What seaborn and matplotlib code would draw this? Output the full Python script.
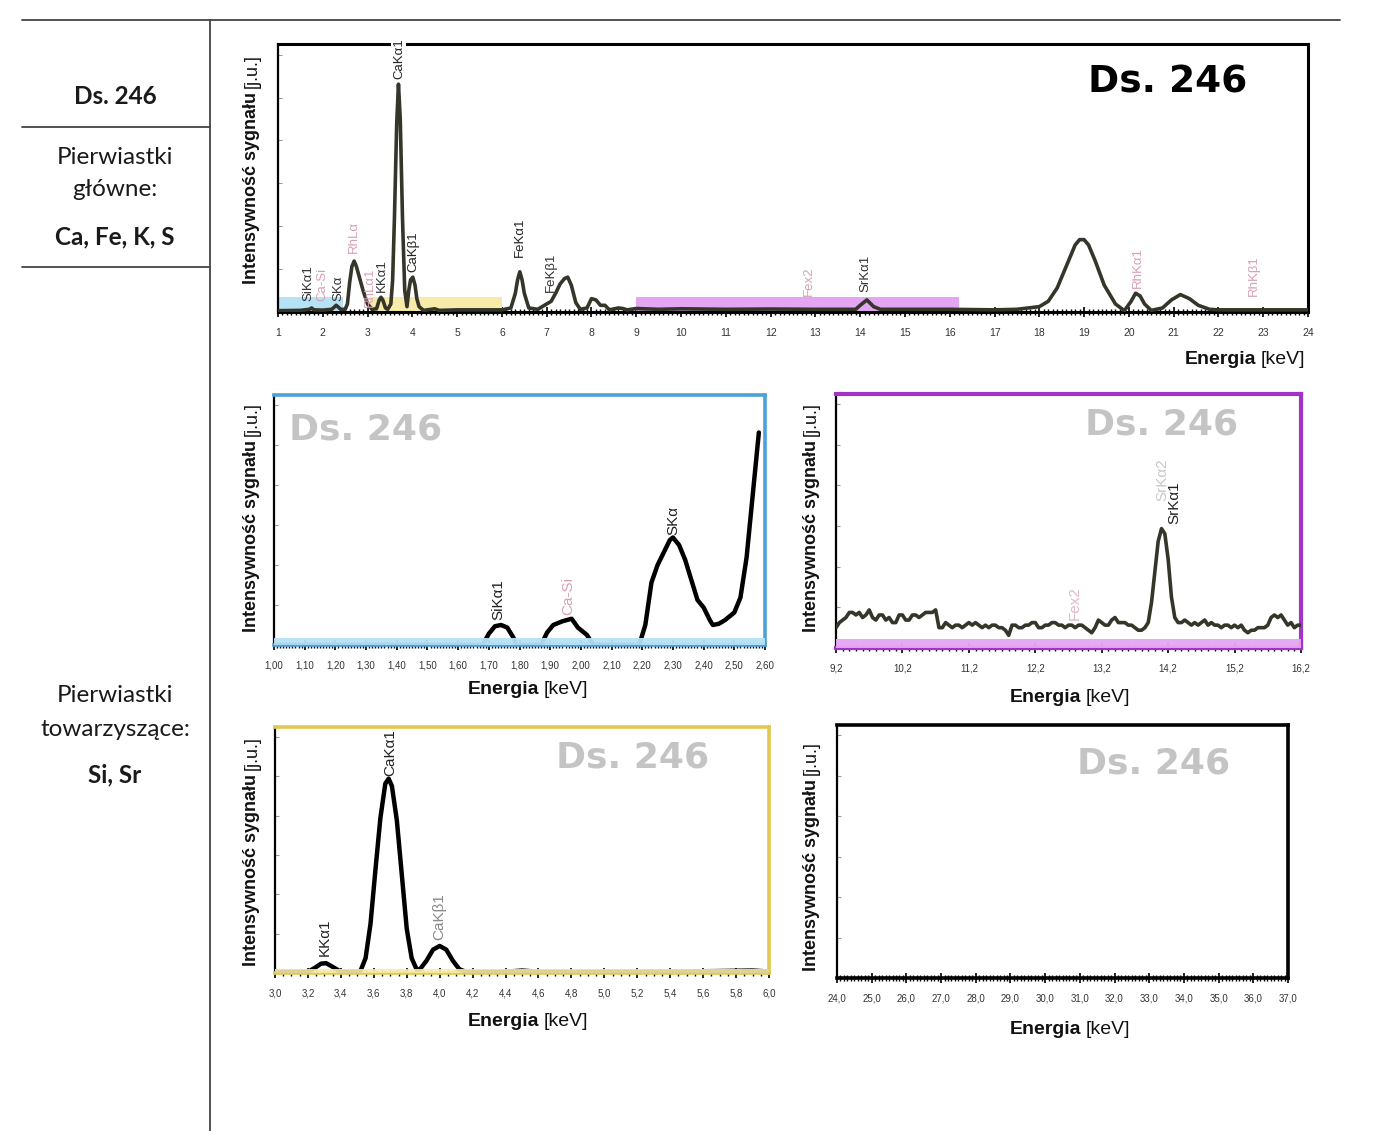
import numpy as np
import seaborn as sns
import matplotlib.pyplot as plt
from matplotlib.lines import Line2D
from matplotlib.transforms import IdentityTransform
from matplotlib.ticker import MultipleLocator, FixedLocator, FuncFormatter, NullFormatter

W, H = 1400, 1131

# ---- data (intensity in % of panel height) ----
full_kev = [1.0, 1.5, 1.7, 1.75, 1.8, 2.0, 2.2, 2.3, 2.4, 2.5, 2.55, 2.6, 2.65, 2.7, 2.75,
            2.8, 2.9, 3.0, 3.1, 3.2, 3.26, 3.3, 3.34, 3.4, 3.45, 3.52, 3.56, 3.6, 3.65,
            3.69, 3.73, 3.78, 3.83, 3.88, 3.92, 3.96, 4.01, 4.06, 4.1, 4.15, 4.25, 4.5,
            4.6, 5.0, 5.5, 6.0, 6.2, 6.3, 6.35, 6.4, 6.45, 6.5, 6.6, 6.8, 7.0, 7.1, 7.2,
            7.3, 7.4, 7.47, 7.55, 7.65, 7.75, 7.9, 8.0, 8.1, 8.2, 8.3, 8.4, 8.6, 8.7,
            8.8, 9.0, 9.5, 10.0, 11.0, 12.0, 13.0, 13.9, 14.0, 14.15, 14.3, 14.45, 15.0,
            16.0, 17.0, 17.5, 18.0, 18.2, 18.4, 18.6, 18.8, 18.9, 19.0, 19.1, 19.25, 19.45,
            19.7, 19.9, 20.05, 20.15, 20.25, 20.35, 20.5, 20.75, 20.95, 21.15, 21.35, 21.55,
            21.8, 22.0, 23.0, 24.0]
full_int = [0.5, 0.6, 1.0, 1.5, 0.8, 0.7, 1.0, 2.5, 1.0, 1.0, 3.0, 11, 17, 19, 17,
            14, 8.0, 3.0, 1.0, 1.2, 4.5, 5.5, 4.5, 1.5, 1.0, 3.0, 12, 35, 70,
            85, 72, 35, 8.0, 2.0, 8.0, 12, 13, 10, 5.0, 2.0, 0.6, 1.2,
            0.6, 0.8, 0.8, 0.8, 1.5, 7.0, 12, 15, 12, 7.0, 1.5, 1.0, 3.0, 4.0, 7.0,
            10.5, 12.5, 13, 10, 3.5, 1.0, 1.5, 5.0, 4.5, 2.5, 2.5, 0.8, 1.5, 1.3,
            0.8, 1.3, 1.0, 1.2, 1.0, 1.1, 1.0, 1.0, 2.5, 4.5, 2.0, 1.0, 1.0,
            1.0, 0.8, 1.0, 2.0, 4.0, 9.0, 17, 25, 27, 27, 25, 19, 10,
            3.0, 0.5, 4.0, 7.0, 6.0, 3.0, 0.6, 1.5, 4.5, 6.5, 5.0, 2.5,
            1.0, 0.8, 0.8, 0.8]

si_kev = [1.00, 1.68, 1.70, 1.72, 1.74, 1.76, 1.78, 1.79, 1.87, 1.89, 1.91, 1.94, 1.97,
          1.99, 2.02, 2.04, 2.19, 2.21, 2.23, 2.25, 2.27, 2.29, 2.30, 2.32, 2.34, 2.36,
          2.38, 2.40, 2.42, 2.43, 2.45, 2.47, 2.50, 2.52, 2.54, 2.56, 2.58]
si_int = [0, 0, 4.5, 7.5, 8, 7, 3, 0, 0, 5, 8, 9.5, 10.5,
          7, 4, 0, 0, 8, 25, 32, 37, 42, 43, 40, 34, 26,
          18, 15, 10, 8, 8.5, 10, 13, 19, 35, 60, 85]

sr_kev = np.round(np.arange(9.2, 16.201, 0.05), 2)
sr_int = [8, 10, 11, 12, 14, 14, 13, 14, 12, 13, 15, 12, 11, 13, 13, 11,
          12, 10, 10, 13, 13, 11, 11, 13, 13, 12, 13, 14, 14, 14, 15, 8, 8, 10, 9, 8,
          9, 9, 8, 9, 10, 9, 10, 9, 8, 9, 8, 9, 9, 8, 8, 7, 5, 9, 9, 8,
          8, 9, 9, 10, 10, 8, 8, 9, 9, 10, 10, 9, 9, 8, 9, 9, 8, 9, 9, 8,
          7, 6, 8, 11, 10, 9, 9, 11, 12, 10, 10, 10, 9, 9, 8, 7, 7, 8, 10, 18,
          30, 42, 47, 45, 35, 20, 12, 10, 10, 11, 10, 9, 10, 9, 10, 11, 9, 10, 9, 9,
          8, 9, 9, 8, 9, 8, 9, 7, 6, 7, 7, 8, 8, 8, 9, 12, 13, 12, 13, 11,
          9, 10, 8, 9, 9]

ca_kev = [3.0, 3.2, 3.24, 3.28, 3.31, 3.35, 3.4, 3.5, 3.52, 3.55, 3.58, 3.61, 3.64,
          3.67, 3.69, 3.71, 3.74, 3.77, 3.80, 3.83, 3.86, 3.88, 3.92, 3.96, 4.0, 4.04,
          4.08, 4.12, 4.16, 4.4, 4.5, 4.6, 5.0, 5.5, 5.9, 6.0]
ca_int = [0.5, 0.5, 2, 3.8, 4, 2.5, 0.5, 0.5, 1, 6, 20, 42, 63,
          77, 79, 76, 62, 40, 18, 6, 1.5, 1.5, 5, 9.5, 11, 9.5,
          5, 1.5, 0.5, 0.5, 1, 0.5, 0.5, 0.6, 1, 0.6]

zoom_ranges = [(1.0, 2.45), (3.05, 6.0), (9.0, 16.2)]

full_labels = [(1.68, 4, "SiKα1", "#333333"), (1.98, 4, "Ca-Si", "#d8a0b0"),
               (2.35, 4, "SKα", "#333333"), (2.7, 22, "RhLα", "#d8a0b0"),
               (3.05, 2, "RhLα1", "#d8a0b0"), (3.32, 7.5, "KKα1", "#333333"),
               (3.7, 87, "CaKα1", "#222222"), (4.02, 15, "CaKβ1", "#222222"),
               (6.4, 20.5, "FeKα1", "#222222"), (7.1, 7.5, "FeKβ1", "#333333"),
               (12.85, 6, "Fex2", "#d8a0b0"), (14.12, 7.5, "SrKα1", "#333333"),
               (20.2, 9, "RhKα1", "#d8a0b0"), (22.8, 6, "RhKβ1", "#d8a0b0")]
si_labels = [(1.73, 10, "SiKα1", "#222222"), (1.96, 12, "Ca-Si", "#d8a0b0"),
             (2.30, 44, "SKα", "#222222")]
sr_labels = [(12.8, 11, "Fex2", "#e0b8c8"), (14.12, 58, "SrKα2", "#c8c8c8"),
             (14.3, 49, "SrKα1", "#222222")]
ca_labels = [(3.3, 7, "KKα1", "#222222"), (3.70, 80, "CaKα1", "#222222"),
             (4.0, 13.5, "CaKβ1", "#888888")]

sns.set_style("white")
plt.rcParams['font.family'] = ['Liberation Sans', 'DejaVu Sans']
narrow = ['Liberation Sans Narrow', 'Liberation Sans', 'DejaVu Sans']

fig = plt.figure(figsize=(W / 100, H / 100), dpi=100)
fig.patch.set_facecolor('white')


def px_rect(l, t, r, b):
    return [l / W, (H - b) / H, (r - l) / W, (b - t) / H]


def setup(ax, xlim, major, minor, fmt, frame, lw_frame, tick_size):
    ax.set_xlim(*xlim)
    ax.set_ylim(0, 100)
    ax.xaxis.set_major_locator(FixedLocator(major))
    ax.xaxis.set_minor_locator(MultipleLocator(minor))
    ax.xaxis.set_major_formatter(FuncFormatter(fmt))
    ax.yaxis.set_major_locator(MultipleLocator(16))
    ax.yaxis.set_major_formatter(NullFormatter())
    for s in ax.spines.values():
        s.set_color(frame)
        s.set_linewidth(lw_frame)
        s.set_visible(True)
    ax.spines['left'].set_color('black')
    ax.spines['left'].set_linewidth(1.6)
    ax.tick_params(axis='x', which='major', direction='inout', length=7, width=1.2,
                   color='black', labelsize=tick_size, pad=8, bottom=True)
    ax.tick_params(axis='x', which='minor', direction='inout', length=5, width=1.0,
                   color='black', bottom=True)
    ax.tick_params(axis='y', which='major', direction='in', length=3, width=0.8,
                   color='#999999', left=True)
    for lab in ax.get_xticklabels():
        lab.set_family(narrow)
        lab.set_color('#333333')
    ax.set_xlabel('')
    ax.set_ylabel('')
    ax.set_facecolor('white')


def peak_labels(ax, labels, size):
    for x, y, txt, col in labels:
        ax.text(x, y, txt, rotation=90, ha='center', va='bottom', fontsize=size,
                color=col, family=narrow, clip_on=False, zorder=6)


int_fmt = lambda v, p: f"{v:.0f}"
two_fmt = lambda v, p: f"{v:.2f}".replace('.', ',')
one_fmt = lambda v, p: f"{v:.1f}".replace('.', ',')

line_dark = '#35352a'
c_blue, c_yel, c_pur = '#b6e2f6', '#f6eba8', '#e4a6f2'

# ---- top full spectrum ----
ax0 = fig.add_axes(px_rect(278, 44, 1308, 312))
for (a, b), c in zip(zoom_ranges, [c_blue, c_yel, c_pur]):
    ax0.fill_between([a, b], 0, 5.5, color=c, lw=0, zorder=1)
sns.lineplot(x=full_kev, y=full_int, ax=ax0, color=line_dark, lw=2.6, zorder=3)
setup(ax0, (1, 24), list(range(1, 25)), 0.1, int_fmt, 'black', 2.2, 7.5)
peak_labels(ax0, full_labels, 9.5)
ax0.texts[6].set_bbox(dict(facecolor='white', edgecolor='none', pad=1))
ax0.text(0.864, 0.858, "Ds. 246", transform=ax0.transAxes, ha='center', va='center',
         fontsize=27, fontweight='bold', color='black', family='DejaVu Sans')

# ---- Si / S zoom ----
ax1 = fig.add_axes(px_rect(274, 395, 765, 645))
sns.lineplot(x=si_kev, y=si_int, ax=ax1, color='black', lw=3.2, zorder=3)
ax1.fill_between([1.0, 2.6], 0, 3.0, color=c_blue, lw=0, alpha=0.95, zorder=4)
setup(ax1, (1.0, 2.6), list(np.round(np.arange(1.0, 2.61, 0.1), 2)), 0.01, two_fmt,
      '#4aa2d6', 2.6, 7)
peak_labels(ax1, si_labels, 11)
ax1.text(0.187, 0.86, "Ds. 246", transform=ax1.transAxes, ha='center', va='center',
         fontsize=26, fontweight='bold', color='#c4c4c4', family='DejaVu Sans')

# ---- Sr zoom ----
ax2 = fig.add_axes(px_rect(836, 394, 1301, 648))
sns.lineplot(x=sr_kev, y=sr_int, ax=ax2, color=line_dark, lw=2.6, zorder=3)
ax2.fill_between([9.2, 16.2], 0, 3.7, color=c_pur, lw=0, alpha=0.95, zorder=4)
setup(ax2, (9.2, 16.2), list(np.round(np.arange(9.2, 16.21, 1.0), 1)), 0.1, one_fmt,
      '#a234c4', 3.0, 7)
peak_labels(ax2, sr_labels, 11)
ax2.text(0.701, 0.878, "Ds. 246", transform=ax2.transAxes, ha='center', va='center',
         fontsize=26, fontweight='bold', color='#c4c4c4', family='DejaVu Sans')

# ---- Ca / K zoom ----
ax3 = fig.add_axes(px_rect(275, 727, 769, 973))
sns.lineplot(x=ca_kev, y=ca_int, ax=ax3, color='black', lw=3.2, zorder=3)
ax3.fill_between([3.0, 6.0], 0, 1.5, color=c_yel, lw=0, alpha=0.9, zorder=4)
setup(ax3, (3.0, 6.0), list(np.round(np.arange(3.0, 6.01, 0.2), 1)), 0.05, one_fmt,
      '#e2c84e', 2.6, 7)
peak_labels(ax3, ca_labels, 11)
ax3.text(0.723, 0.874, "Ds. 246", transform=ax3.transAxes, ha='center', va='center',
         fontsize=26, fontweight='bold', color='#c4c4c4', family='DejaVu Sans')

# ---- empty high energy panel ----
ax4 = fig.add_axes(px_rect(837, 725, 1288, 978))
setup(ax4, (24.0, 37.0), list(np.arange(24, 38, 1.0)), 0.1, one_fmt, 'black', 2.6, 7)
ax4.text(0.703, 0.846, "Ds. 246", transform=ax4.transAxes, ha='center', va='center',
         fontsize=26, fontweight='bold', color='#c4c4c4', family='DejaVu Sans')

# ---- axis titles with bold + regular parts ----
renderer = fig.canvas.get_renderer()


def mixed(xp, yp, bold, normal, size, rot=0, anchor='center'):
    Y = H - yp
    tb = fig.text(0, 0, bold, fontsize=size, fontweight='bold', rotation=rot,
                  transform=IdentityTransform(), family=narrow, color='#111111')
    tn = fig.text(0, 0, normal, fontsize=size, rotation=rot,
                  transform=IdentityTransform(), family=narrow, color='#111111')
    eb = tb.get_window_extent(renderer)
    en = tn.get_window_extent(renderer)
    gap = size * 0.3
    if rot == 0:
        total = eb.width + gap + en.width
        x0 = xp - total / 2 if anchor == 'center' else xp - total
        tb.set_position((x0, Y)); tb.set_ha('left'); tb.set_va('center')
        tn.set_position((x0 + eb.width + gap, Y)); tn.set_ha('left'); tn.set_va('center')
    else:
        total = eb.height + gap + en.height
        y0 = Y - total / 2
        tb.set_position((xp, y0)); tb.set_ha('center'); tb.set_va('bottom')
        tn.set_position((xp, y0 + eb.height + gap)); tn.set_ha('center'); tn.set_va('bottom')


ylab = ("Intensywność sygnału", "[j.u.]")
for xp, yp in [(252, 169), (252, 517), (811, 517), (252, 851), (811, 856)]:
    mixed(xp, yp, ylab[0], ylab[1], 13, rot=90)
mixed(1305, 360, "Energia", "[keV]", 14, anchor='right')
mixed(528, 690, "Energia", "[keV]", 14)
mixed(1070, 697, "Energia", "[keV]", 14)
mixed(528, 1022, "Energia", "[keV]", 14)
mixed(1070, 1030, "Energia", "[keV]", 14)

# ---- table frame on the left ----
def hline(x0, x1, y):
    fig.add_artist(Line2D([x0 / W, x1 / W], [(H - y) / H] * 2, color='#444444', lw=1.3))


hline(22, 1340, 20)
hline(22, 210, 127)
hline(22, 210, 267)
fig.add_artist(Line2D([210 / W, 210 / W], [(H - 20) / H, 0], color='#444444', lw=1.3))

side = ['Lato', 'Open Sans', 'DejaVu Sans']
side_text = [(97, "Ds. 246", 'bold'), (158, "Pierwiastki", 'normal'),
             (190, "główne:", 'normal'), (237, "Ca, Fe, K, S", 'bold'),
             (695, "Pierwiastki", 'normal'), (730, "towarzyszące:", 'normal'),
             (775, "Si, Sr", 'bold')]
for yp, txt, wt in side_text:
    fig.text(115 / W, (H - yp) / H, txt, ha='center', va='center', fontsize=17.5,
             fontweight=wt, family=side, color='#1a1a1a')

fig.savefig('out.png', dpi=100, facecolor='white')
